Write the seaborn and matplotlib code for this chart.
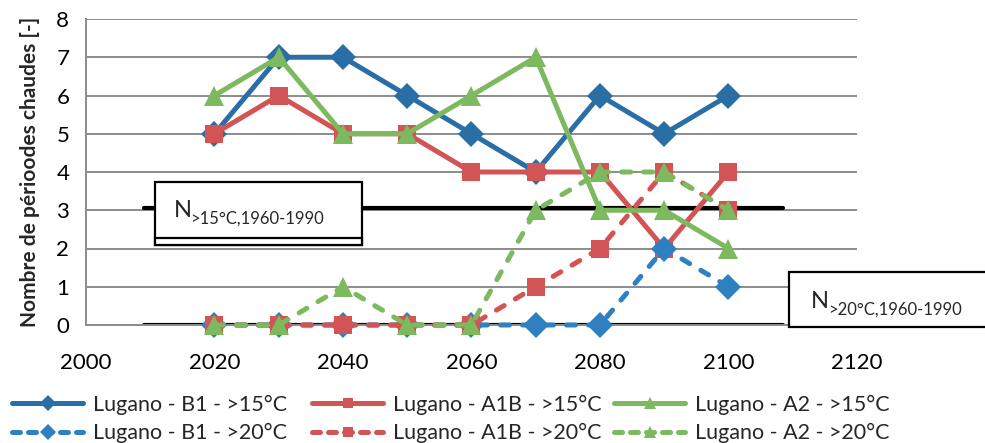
import matplotlib
matplotlib.use("Agg")
import matplotlib.pyplot as plt
from matplotlib.patches import Rectangle
import numpy as np
import pandas as pd
import seaborn as sns

# données
years = [2020, 2030, 2040, 2050, 2060, 2070, 2080, 2090, 2100]
b1_15 = [5, 7, 7, 6, 5, 4, 6, 5, 6]
a1b_15 = [5, 6, 5, 5, 4, 4, 4, 2, 4]
a2_15 = [6, 7, 5, 5, 6, 7, 3, 3, 2]
b1_20 = [0, 0, 0, 0, 0, 0, 0, 2, 1]
a1b_20 = [0, 0, 0, 0, 0, 1, 2, 4, 3]
a2_20 = [0, 0, 1, 0, 0, 3, 4, 4, 3]
ref_15 = 3.05
ref_20 = 0
ref_span = [2009, 2108.5]
x_ticks = [2000, 2020, 2040, 2060, 2080, 2100, 2120]

series = [
    ("Lugano - B1 - >15°C", b1_15, "#2a6ea6", "D", "-"),
    ("Lugano - A1B - >15°C", a1b_15, "#d35454", "s", "-"),
    ("Lugano - A2 - >15°C", a2_15, "#7db95e", "^", "-"),
    ("Lugano - B1 - >20°C", b1_20, "#2f80c0", "D", "--"),
    ("Lugano - A1B - >20°C", a1b_20, "#d35454", "s", "--"),
    ("Lugano - A2 - >20°C", a2_20, "#7db95e", "^", "--"),
]
msize = {"D": 13.5, "s": 13, "^": 14.5}

sns.set_style("white")
plt.rcParams['font.family'] = ['Lato', 'DejaVu Sans']

W, H = 985, 443
fig = plt.figure(figsize=(W / 100, H / 100), dpi=100)


def fx(x):
    return x / W


def fy(y):
    return 1 - y / H


ax = fig.add_axes([fx(86), fy(325), fx(857) - fx(86), fy(19) - fy(325)])

# lignes de référence
ax.plot(ref_span, [ref_15, ref_15], color="black", lw=3, zorder=2)
ax.plot(ref_span, [ref_20, ref_20], color="black", lw=3, zorder=2)

handles = []
for label, vals, col, mk, ls in series:
    df = pd.DataFrame({"annee": years, "n": vals})
    kw = dict(color=col, marker=mk, markersize=msize[mk], markeredgewidth=0,
              linewidth=3.6, legend=False, ax=ax, zorder=3)
    if ls == "--":
        kw.update(linestyle=(0, (1.8, 2.6)), dash_capstyle="round")
    sns.lineplot(data=df, x="annee", y="n", **kw)
    ax.get_lines()[-1].set_clip_on(False)
    h = matplotlib.lines.Line2D([], [], color=col, marker=mk,
                                markersize=msize[mk] * 0.6, markeredgewidth=0,
                                linewidth=3.6, label=label)
    if ls == "--":
        h.set_linestyle((0, (1.6, 1.6)))
        h.set_dash_capstyle("round")
    handles.append(h)

ax.set_xlim(2000, 2120)
ax.set_ylim(0, 8)
ax.set_xticks(x_ticks)
ax.set_yticks(range(0, 9))
ax.yaxis.grid(True, color="#8c8c8c", lw=1.4)
ax.set_axisbelow(True)
for s in ["top", "right"]:
    ax.spines[s].set_visible(False)
for s in ["left", "bottom"]:
    ax.spines[s].set_color("#8c8c8c")
    ax.spines[s].set_linewidth(1.4)
ax.tick_params(axis="both", colors="#8c8c8c", labelcolor="black", width=1.4,
               length=6, labelsize=16, direction="out")
ax.tick_params(axis="x", pad=14)
ax.tick_params(axis="y", pad=6)
ax.set_xlabel("")
ax.set_ylabel("Nombre de périoodes chaudes [-]", fontsize=15, fontweight="bold",
              labelpad=12)

# encadrés de texte
fig.patches.append(Rectangle((fx(155), fy(245)), fx(362) - fx(155), fy(182) - fy(245),
                             transform=fig.transFigure, facecolor="white",
                             edgecolor="black", lw=1.6, zorder=5))
fig.patches.append(Rectangle((fx(155), fy(245)), fx(362) - fx(155), fy(238) - fy(245),
                             transform=fig.transFigure, facecolor="white",
                             edgecolor="black", lw=1.6, zorder=5))
fig.patches.append(Rectangle((fx(789), fy(327)), fx(995) - fx(789), fy(272) - fy(327),
                             transform=fig.transFigure, facecolor="white",
                             edgecolor="black", lw=1.6, zorder=5))
fig.text(fx(174), fy(217), "N", fontsize=17, zorder=6)
fig.text(fx(190), fy(224), ">15°C,1960-1990", fontsize=12, zorder=6)
fig.text(fx(811), fy(308), "N", fontsize=17, zorder=6)
fig.text(fx(828), fy(315), ">20°C,1960-1990", fontsize=12, zorder=6)

# légende en trois colonnes
for i, x0 in enumerate([12, 312, 614]):
    leg = fig.legend(handles=[handles[i], handles[i + 3]], loc="center left",
                     bbox_to_anchor=(fx(x0), fy(419)), frameon=False, fontsize=15.5,
                     handlelength=3.3, handletextpad=0.45, labelspacing=0.4,
                     borderpad=0, borderaxespad=0)

fig.savefig("out.png", dpi=100)
